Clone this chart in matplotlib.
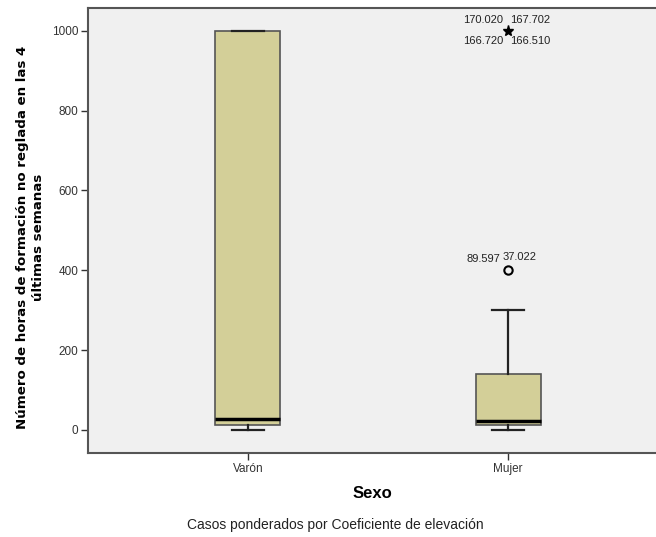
import matplotlib
matplotlib.use("Agg")
from matplotlib import pyplot as plt

# Data
categories = ["Varón", "Mujer"]
q1 = [12, 12]
medians = [28, 23]
q3 = [1000, 140]
whisker_low = [0, 0]
whisker_high = [1000, 300]

# Outliers (circle) and extremes (star) for Mujer
outlier_values = [400]
outlier_labels = [["89.597", "37.022"]]
extreme_values = [1000]
extreme_labels = [["170.020", "167.702", "166.720", "166.510"]]

yticks = [0, 200, 400, 600, 800, 1000]

plain = ["Liberation Sans", "DejaVu Sans"]

fig = plt.figure(figsize=(6.56, 5.37), dpi=100)
ax = fig.add_axes([88 / 656, 1 - 453 / 537, 1 - 88 / 656, 445 / 537])
ax.set_facecolor("#f0f0f0")

# Box statistics for bxp
stats = []
for i in range(len(categories)):
    stats.append({
        "label": categories[i],
        "q1": q1[i],
        "med": medians[i],
        "q3": q3[i],
        "whislo": whisker_low[i],
        "whishi": whisker_high[i],
        "fliers": [],
    })

positions = list(range(len(categories)))
ax.bxp(stats, positions=positions, widths=0.25, patch_artist=True,
       showfliers=False,
       boxprops=dict(facecolor="#d3cf98", edgecolor="#555555", linewidth=1.2),
       medianprops=dict(color="black", linewidth=2.5),
       whiskerprops=dict(color="#222222", linewidth=1.6),
       capprops=dict(color="#222222", linewidth=1.6),
       capwidths=0.125)

# Mujer outliers
mujer = 1
for v, labs in zip(outlier_values, outlier_labels):
    ax.plot(mujer, v, marker="o", markersize=6, markerfacecolor="none",
            markeredgecolor="black", markeredgewidth=1.5, linestyle="none")
    ax.annotate(labs[0], (mujer, v), xytext=(-8, 11), textcoords="offset pixels",
                ha="right", va="center", fontsize=8, family=plain, color="#222222")
    ax.annotate(labs[1], (mujer, v), xytext=(-5, 13), textcoords="offset pixels",
                ha="left", va="center", fontsize=8, family=plain, color="#222222")

for v, labs in zip(extreme_values, extreme_labels):
    ax.plot(mujer, v, marker="*", markersize=8, color="black", linestyle="none")
    ax.annotate(labs[0], (mujer, v), xytext=(-5, 11), textcoords="offset pixels",
                ha="right", va="center", fontsize=8, family=plain, color="#222222")
    ax.annotate(labs[1], (mujer, v), xytext=(2, 11), textcoords="offset pixels",
                ha="left", va="center", fontsize=8, family=plain, color="#222222")
    ax.annotate(labs[2], (mujer, v), xytext=(-5, -10), textcoords="offset pixels",
                ha="right", va="center", fontsize=8, family=plain, color="#222222")
    ax.annotate(labs[3], (mujer, v), xytext=(2, -10), textcoords="offset pixels",
                ha="left", va="center", fontsize=8, family=plain, color="#222222")

ax.set_xlim(-0.615, 1.569)
ax.set_ylim(-58, 1057)
ax.set_yticks(yticks)
ax.set_yticklabels([str(t) for t in yticks], family=plain, fontsize=8.5, color="#333333")
ax.set_xticks(positions)
ax.set_xticklabels(categories, family=plain, fontsize=8.5, color="#333333")
ax.tick_params(axis="both", direction="out", length=5, width=1, color="#333333", pad=2)

ax.spines["right"].set_visible(False)
for s in ["left", "bottom", "top"]:
    ax.spines[s].set_color("#555555")
    ax.spines[s].set_linewidth(1.5)

ax.set_ylabel("Número de horas de formación no reglada en las 4\núltimas semanas",
              family="DejaVu Sans", fontweight="bold", fontsize=9.6, linespacing=1.3)
ax.yaxis.set_label_coords(-0.076, 0.485)
ax.set_xlabel("Sexo", family=plain, fontweight="bold", fontsize=12, labelpad=8)

fig.text(335 / 656, 1 - 525 / 537,
         "Casos ponderados por Coeficiente de elevación",
         ha="center", va="center", family=plain, fontsize=10, color="#222222")

fig.savefig("out.png", dpi=100)
